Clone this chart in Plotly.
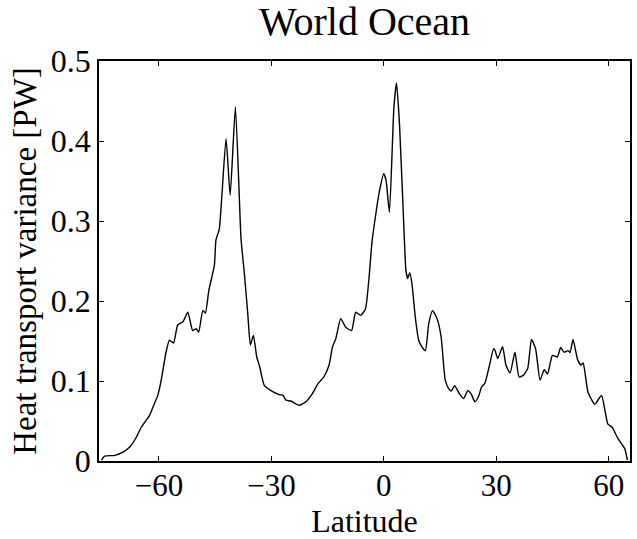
import plotly.graph_objects as go

# Zonal profile of heat transport variance (World Ocean)
latitude = [
    -75.3, -74.5, -71.8, -69.6, -67.8, -66.0, -64.7, -62.5, -61.2, -60.3,
    -59.4, -58.2, -57.2, -56.1, -55.0, -53.6, -52.3, -51.0, -50.1, -49.4,
    -48.3, -47.6, -46.7, -45.2, -44.8, -43.9, -42.1, -41.0, -39.6, -38.1,
    -37.2, -36.3, -35.6, -34.8, -33.9, -33.1, -31.9, -30.1, -27.9, -26.9,
    -26.1, -24.8, -22.6, -20.8, -19.1, -17.5, -16.0, -14.6, -13.7, -12.8,
    -11.5, -10.2, -8.6, -7.5, -6.2, -4.9, -4.0, -3.1, -1.3, 0.0,
    0.6, 1.5, 2.7, 3.4, 4.2, 5.5, 5.9, 6.4, 6.9, 7.5,
    8.4, 9.3, 10.2, 11.1, 12.0, 13.0, 14.2, 15.3, 16.4, 17.3,
    18.0, 18.9, 20.2, 21.3, 22.4, 23.3, 24.3, 25.3, 26.1, 27.0,
    28.1, 29.3, 29.7, 30.4, 31.7, 32.6, 33.7, 35.0, 36.1, 37.2,
    38.4, 39.4, 40.5, 41.7, 42.8, 43.7, 45.0, 46.3, 47.2, 48.1,
    49.2, 49.7, 50.5, 51.7, 52.6, 53.2, 54.5, 56.3, 58.1, 59.8,
    60.9, 62.5, 64.3, 65.0,
]
variance_pw = [
    0.001, 0.006, 0.007, 0.011, 0.0175, 0.030, 0.0425, 0.057, 0.072, 0.082,
    0.101, 0.134, 0.151, 0.1475, 0.170, 0.174, 0.186, 0.163, 0.1655, 0.161,
    0.188, 0.185, 0.213, 0.245, 0.276, 0.290, 0.403, 0.332, 0.4425, 0.278,
    0.234, 0.184, 0.145, 0.157, 0.130, 0.1175, 0.0946, 0.088, 0.083, 0.082,
    0.076, 0.075, 0.0696, 0.074, 0.084, 0.097, 0.105, 0.120, 0.1425, 0.153,
    0.178, 0.1675, 0.163, 0.186, 0.182, 0.190, 0.226, 0.276, 0.334, 0.359,
    0.351, 0.311, 0.4425, 0.4725, 0.420, 0.276, 0.238, 0.228, 0.2355, 0.222,
    0.180, 0.151, 0.1425, 0.138, 0.172, 0.188, 0.178, 0.155, 0.101, 0.0905,
    0.0875, 0.094, 0.084, 0.078, 0.088, 0.084, 0.074, 0.081, 0.0925, 0.0975,
    0.1175, 0.1405, 0.138, 0.128, 0.143, 0.1196, 0.110, 0.136, 0.105, 0.107,
    0.1155, 0.152, 0.1405, 0.101, 0.114, 0.109, 0.132, 0.130, 0.142, 0.136,
    0.138, 0.1355, 0.152, 0.127, 0.120, 0.1225, 0.086, 0.071, 0.082, 0.046,
    0.0425, 0.028, 0.0155, 0.001,
]

x_ticks = [-60, -30, 0, 30, 60]
y_ticks = [0, 0.1, 0.2, 0.3, 0.4, 0.5]
y_tick_text = ["0", "0.1", "0.2", "0.3", "0.4", "0.5"]

serif = "Liberation Serif, Times New Roman, serif"

fig = go.Figure(
    go.Scatter(
        x=latitude,
        y=variance_pw,
        mode="lines",
        line=dict(color="black", width=1.4, shape="spline", smoothing=0.5),
        showlegend=False,
    )
)

axis_common = dict(
    showline=True,
    linecolor="black",
    linewidth=1.5,
    mirror="ticks",
    ticks="inside",
    ticklen=5,
    tickwidth=1,
    tickcolor="black",
    showgrid=False,
    zeroline=False,
)

fig.update_layout(
    width=637,
    height=539,
    margin=dict(l=99, r=5, t=61, b=78),
    paper_bgcolor="white",
    plot_bgcolor="white",
    title=dict(
        text="World Ocean",
        font=dict(family=serif, size=40, color="black"),
        x=0.5,
        xref="paper",
        xanchor="center",
        y=1 - 21 / 539,
        yref="container",
        yanchor="middle",
    ),
    xaxis=dict(
        range=[-76, 65.7],
        tickvals=x_ticks,
        tickfont=dict(family=serif, size=31, color="black"),
        ticklabelstandoff=-4,
        title=dict(text="Latitude", font=dict(family=serif, size=32, color="black"), standoff=6),
        **axis_common,
    ),
    yaxis=dict(
        range=[0, 0.5],
        tickvals=y_ticks,
        ticktext=y_tick_text,
        tickfont=dict(family=serif, size=32, color="black"),
        title=dict(
            text="Heat transport variance [PW]",
            font=dict(family=serif, size=33, color="black"),
            standoff=4,
        ),
        **axis_common,
    ),
)

fig.write_html("out.html")
